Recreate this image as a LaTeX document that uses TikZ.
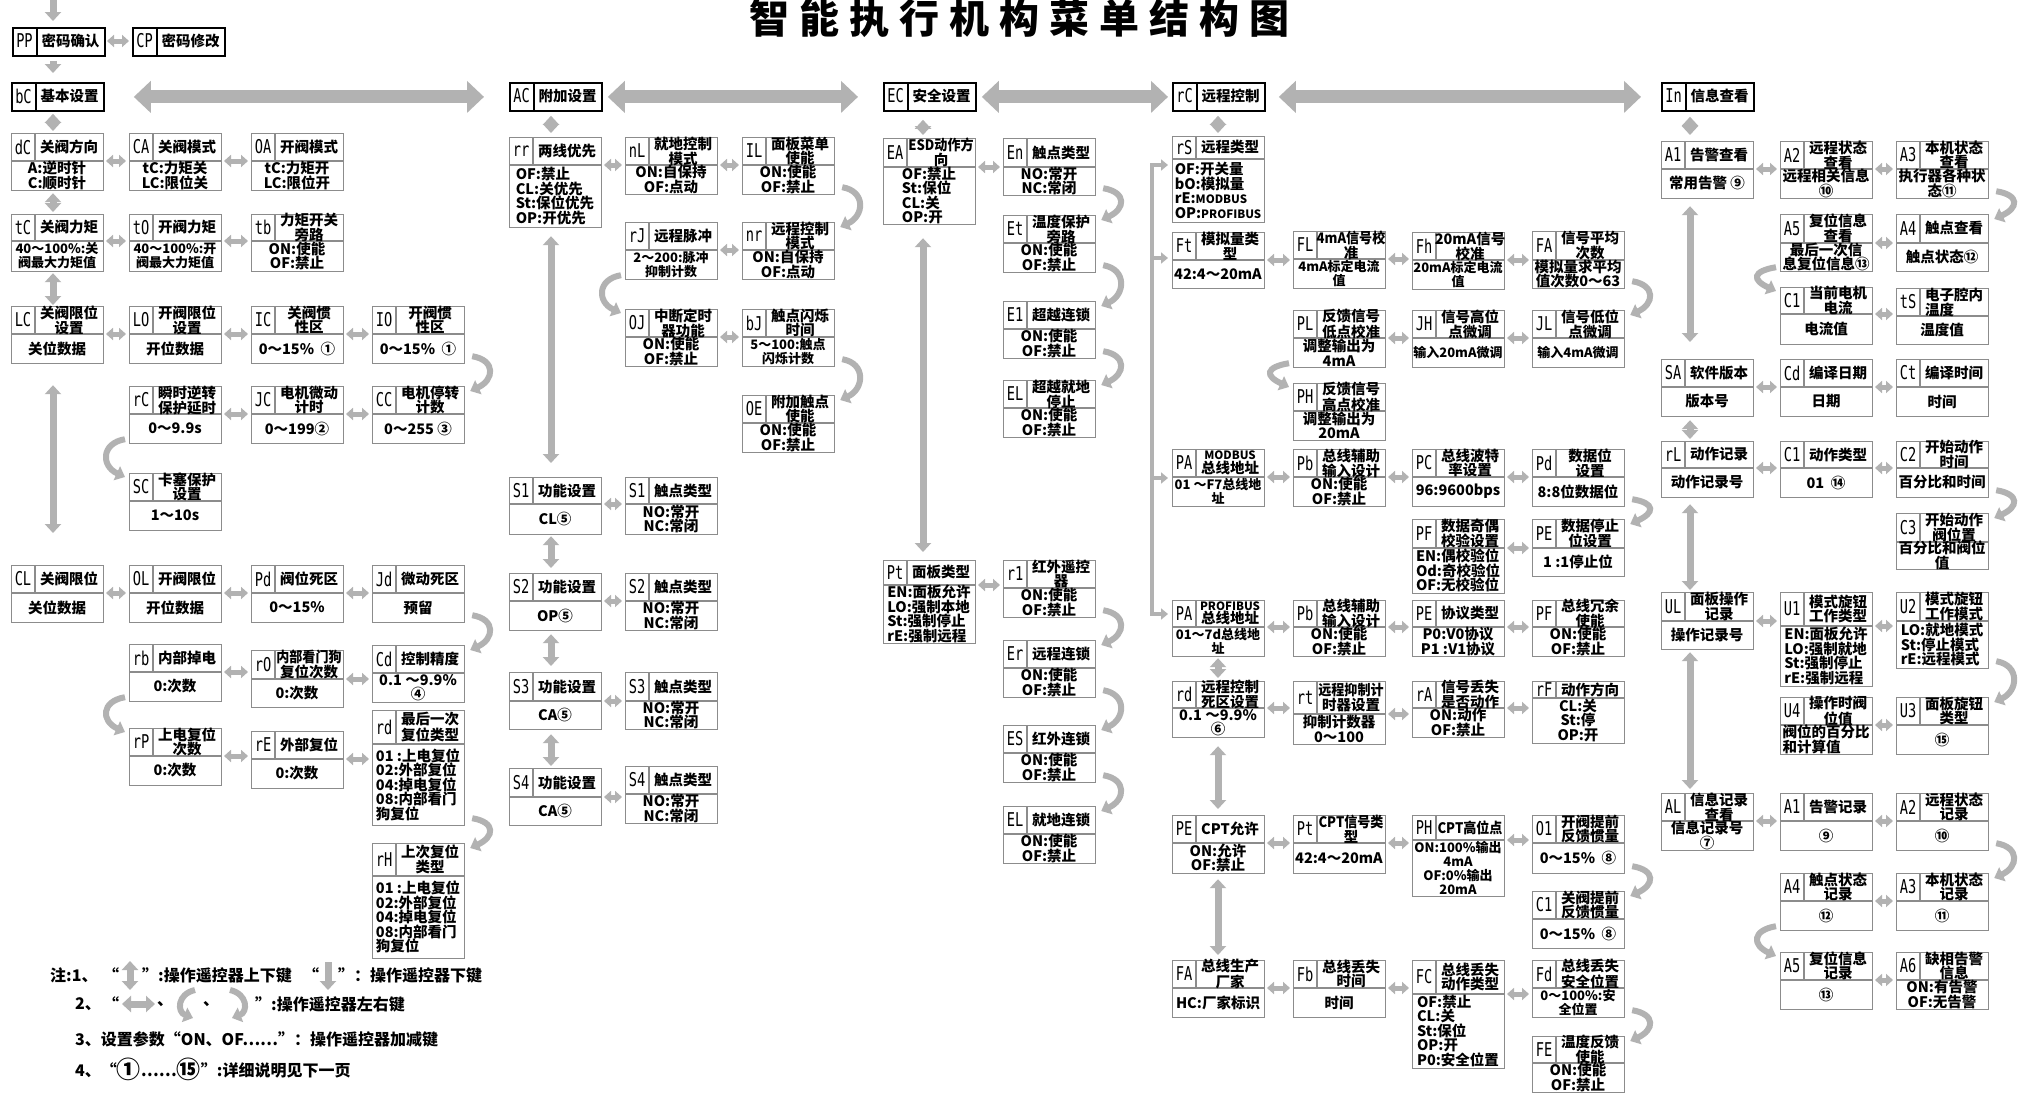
\documentclass[tikz,border=0pt]{standalone}
\usepackage{fontspec}
\usepackage{graphicx}
\setmainfont{Noto Sans CJK SC}
\newfontfamily\codefont{DejaVu Sans Mono}
\usetikzlibrary{arrows.meta,calc}
\definecolor{arrgray}{RGB}{178,178,178}
\definecolor{boxgray}{RGB}{140,140,140}
\newcommand\segc[1]{\scalebox{0.72}[1]{\codefont\fontsize{19}{19}\selectfont #1}}
\newcommand\latn[1]{{\fontsize{11.5}{13}\selectfont #1}}
\newcommand\nar[1]{\scalebox{0.9}[1]{#1}}
\newcommand\bigc[1]{\raisebox{-0.12em}{\scalebox{1.5}{#1}}}
\tikzset{
  mbox/.style={draw=boxgray, line width=1.2pt, minimum width=92pt, inner sep=0pt, anchor=north west},
  hbox/.style={draw=black, line width=1.8pt, minimum width=92pt, minimum height=28pt, inner sep=0pt, anchor=north west},
  gridl/.style={draw=boxgray, line width=1.2pt},
  codet/.style={inner sep=0pt},
  headt/.style={inner sep=0pt, font=\fontsize{14.5}{13.5}\selectfont\bfseries, align=center},
  bodyt/.style={inner sep=0pt, font=\fontsize{14.5}{14.5}\selectfont\bfseries, align=center},
  sm/.style={font=\fontsize{13}{14}\selectfont\bfseries},
  harr/.style={draw=arrgray, line width=5pt, {Triangle[width=12pt,length=7pt]}-{Triangle[width=12pt,length=7pt]}},
  varr/.style={draw=arrgray, line width=7pt, {Triangle[width=16pt,length=9pt]}-{Triangle[width=16pt,length=9pt]}},
  sarr/.style={draw=arrgray, line width=7pt, -{Triangle[width=16pt,length=9pt]}},
  barr/.style={draw=arrgray, line width=13pt, {Triangle[width=31pt,length=17pt]}-{Triangle[width=31pt,length=17pt]}},
  curv/.style={draw=arrgray, line width=6pt, -{Triangle[width=15pt,length=9pt]}},
  brk/.style={draw=arrgray, line width=4.5pt, line join=miter, {Triangle[width=11pt,length=7pt]}-{Triangle[width=11pt,length=7pt]}},
  brka/.style={draw=arrgray, line width=4.5pt, -{Triangle[width=11pt,length=7pt]}},
  notet/.style={inner sep=0pt, anchor=west, font=\fontsize{16}{16}\selectfont\bfseries},
  titlet/.style={inner sep=0pt, anchor=base, font=\fontsize{40}{40}\selectfont\bfseries},
}
% #1 opt body style, #2 name, #3 x, #4 y, #5 h, #6 header h, #7 code, #8 head, #9 body
\newcommand\mnode[9][]{%
  \node[mbox, minimum height=#5pt] (#2) at (#3,#4) {};
  \draw[gridl] (#3,#4+#6) -- (#3+92,#4+#6);
  \draw[gridl] (#3+24,#4) -- (#3+24,#4+#6);
  \node[codet] (#2-c) at (#3+12,#4+#6/2) {\segc{#7}};
  \node[headt] (#2-h) at (#3+58,#4+#6/2) {#8};
  \node[bodyt,#1] (#2-b) at (#3+46,#4+#6/2+#5/2) {#9};
  \coordinate (#2-dr) at (#3+92,#4+#6);
}
\newcommand\hnode[5]{%
  \node[hbox] (#1) at (#2,#3) {};
  \draw[black, line width=1.8pt] (#2+25,#3) -- (#2+25,#3+28);
  \node[codet] (#1-c) at (#2+12.5,#3+14) {\segc{#4}};
  \node[headt] (#1-h) at (#2+58.5,#3+14) {#5};
  \coordinate (#1-dr) at (#2+92,#3+14);
}
\newcommand\hcon[2]{\draw[harr] ($(#1-dr)+(3,0)$) -- ($(#1-dr -| #2.west)+(-3,0)$);}
\newcommand\vcon[5]{\draw[varr, shorten <=#4pt, shorten >=#5pt] ([xshift=#3pt]#1.south west) -- ([xshift=#3pt]#2.north west);}
\newcommand\rcurve[2]{%
  \path ($(#1.south east)+(7,-8)$) coordinate (s#1#2) ($(#2.north east)+(5,5)$) coordinate (e#1#2);
  \draw[curv] (s#1#2) .. controls ($(s#1#2)+(24,4)$) and ($(e#1#2)+(24,-11)$) .. (e#1#2);}
\newcommand\lcurve[2]{%
  \path ($(#1.south west)+(-4,-5)$) coordinate (s#1#2) ($(#2.north west)+(-4,4)$) coordinate (e#1#2);
  \draw[curv] (s#1#2) .. controls ($(s#1#2)+(-24,4)$) and ($(e#1#2)+(-24,-11)$) .. (e#1#2);}

\begin{document}
\begin{tikzpicture}[x=1pt,y=-1pt]
\fill[white] (0,0) rectangle (2018,1095);
\useasboundingbox (0,0) rectangle (2018,1095);

% title
\foreach \ch [count=\i] in {智,能,执,行,机,构,菜,单,结,构,图} {\node[titlet] (t\i) at ({719+50*\i},33) {\ch};}

% ===== column bC =====
\hnode{PP}{12}{27}{PP}{密码确认}
\hnode{CP}{132}{27}{CP}{密码修改}
\hnode{bC}{11}{82}{bC}{基本设置}
\mnode{dC}{11}{133}{57}{28}{dC}{关阀方向}{A:逆时针\\C:顺时针}
\mnode{CA}{129}{133}{57}{28}{CA}{关阀模式}{tC:力矩关\\LC:限位关}
\mnode{OA}{251}{133}{57}{28}{OA}{开阀模式}{tC:力矩开\\LC:限位开}
\mnode[sm]{tC}{11}{214}{57}{27}{tC}{关阀力矩}{40～100\%:关\\阀最大力矩值}
\mnode[sm]{tO}{129}{214}{57}{27}{tO}{开阀力矩}{40～100\%:开\\阀最大力矩值}
\mnode{tb}{251}{214}{57}{27}{tb}{力矩开关\\旁路}{ON:使能\\OF:禁止}
\mnode{LC}{11}{306}{57}{28}{LC}{关阀限位\\设置}{关位数据}
\mnode{LO}{129}{306}{57}{28}{LO}{开阀限位\\设置}{开位数据}
\mnode{IC}{251}{306}{57}{28}{IC}{关阀惯\\性区}{0～15\%\ \ ①}
\mnode{IO}{372}{306}{57}{28}{IO}{开阀惯\\性区}{0～15\%\ \ ①}
\mnode{rC}{129}{386}{57}{28}{rC}{瞬时逆转\\保护延时}{0～9.9s}
\mnode{JC}{251}{386}{57}{28}{JC}{电机微动\\计时}{0～199②}
\mnode{CC}{372}{386}{57}{28}{CC}{电机停转\\计数}{0～255 ③}
\mnode{SC}{129}{473}{57}{28}{SC}{卡塞保护\\设置}{1～10s}
\mnode{CL}{11}{565}{57}{28}{CL}{关阀限位}{关位数据}
\mnode{OL}{129}{565}{57}{28}{OL}{开阀限位}{开位数据}
\mnode{Pdb}{251}{565}{57}{28}{Pd}{阀位死区}{0～15\%}
\mnode{Jd}{372}{565}{57}{28}{Jd}{微动死区}{预留}
\mnode{rb}{129}{644}{57}{28}{rb}{内部掉电}{0:次数}
\mnode{rO}{251}{650}{57}{29}{rO}{\nar{内部看门狗}\\复位次数}{0:次数}
\mnode{Cd}{372}{645}{57}{28}{Cd}{控制精度}{0.1 ～9.9\%\\④}
\mnode{rP}{129}{728}{57}{28}{rP}{上电复位\\次数}{0:次数}
\mnode{rE}{251}{731}{57}{28}{rE}{外部复位}{0:次数}
\mnode[align=left]{rdb}{372}{710}{115}{34}{rd}{最后一次\\复位类型}{01 :上电复位\\02:外部复位\\04:掉电复位\\08:内部看门\\狗复位}
\mnode[align=left]{rH}{372}{843}{115}{33}{rH}{上次复位\\类型}{01 :上电复位\\02:外部复位\\04:掉电复位\\08:内部看门\\狗复位}

\coordinate (topin) at (53,-3);
\draw[sarr, shorten >=6pt] (topin) -- ([xshift=41pt]PP.north west);
\draw[sarr, shorten <=4pt, shorten >=9pt] ([xshift=41pt]PP.south west) -- ([xshift=42pt]bC.north west);
\hcon{PP}{CP}
\vcon{bC}{dC}{42}{2}{2}
\vcon{dC}{tC}{42}{2}{2}
\vcon{tC}{LC}{42}{1}{1}
\vcon{LC}{CL}{42}{21}{32}
\hcon{dC}{CA}\hcon{CA}{OA}
\hcon{tC}{tO}\hcon{tO}{tb}
\hcon{LC}{LO}\hcon{LO}{IC}\hcon{IC}{IO}
\hcon{rC}{JC}\hcon{JC}{CC}
\hcon{CL}{OL}\hcon{OL}{Pdb}\hcon{Pdb}{Jd}
\hcon{rb}{rO}\hcon{rO}{Cd}
\hcon{rP}{rE}\hcon{rE}{rdb}
\rcurve{IO}{CC}
\lcurve{rC}{SC}
\rcurve{Jd}{Cd}
\lcurve{rb}{rP}
\rcurve{rdb}{rH}

% ===== column AC =====
\hnode{AC}{509}{82}{AC}{附加设置}
\mnode[align=left]{rr}{509}{137}{90}{28}{rr}{两线优先}{OF:禁止\\CL:关优先\\St:保位优先\\OP:开优先}
\mnode{nL}{625}{137}{57}{28}{nL}{就地控制\\模式}{ON:自保持\\OF:点动}
\mnode{IL}{742}{137}{57}{28}{IL}{面板菜单\\使能}{ON:使能\\OF:禁止}
\mnode[sm]{rJ}{625}{222}{57}{28}{rJ}{远程脉冲}{2～200:脉冲\\抑制计数}
\mnode{nr}{742}{222}{57}{28}{nr}{远程控制\\模式}{ON:自保持\\OF:点动}
\mnode{OJ}{625}{309}{57}{28}{OJ}{中断定时\\器功能}{ON:使能\\OF:禁止}
\mnode[sm]{bJ}{742}{309}{57}{28}{bJ}{触点闪烁\\时间}{5～100:触点\\闪烁计数}
\mnode{OE}{742}{395}{57}{28}{OE}{附加触点\\使能}{ON:使能\\OF:禁止}
\mnode{S1f}{509}{477}{57}{27}{S1}{功能设置}{CL⑤}
\mnode{S1t}{625}{477}{57}{27}{S1}{触点类型}{NO:常开\\NC:常闭}
\mnode{S2f}{509}{573}{57}{28}{S2}{功能设置}{OP⑤}
\mnode{S2t}{625}{573}{57}{28}{S2}{触点类型}{NO:常开\\NC:常闭}
\mnode{S3f}{509}{672}{57}{29}{S3}{功能设置}{CA⑤}
\mnode{S3t}{625}{672}{57}{29}{S3}{触点类型}{NO:常开\\NC:常闭}
\mnode{S4f}{509}{768}{57}{29}{S4}{功能设置}{CA⑤}
\mnode{S4t}{625}{766}{57}{28}{S4}{触点类型}{NO:常开\\NC:常闭}
\vcon{AC}{rr}{42}{4}{4}
\vcon{rr}{S1f}{42}{8}{14}
\vcon{S1f}{S2f}{42}{1}{5}
\vcon{S2f}{S3f}{42}{3}{6}
\vcon{S3f}{S4f}{42}{4}{2}
\hcon{rr}{nL}\hcon{nL}{IL}
\hcon{rJ}{nr}\hcon{OJ}{bJ}
\hcon{S1f}{S1t}\hcon{S2f}{S2t}\hcon{S3f}{S3t}\hcon{S4f}{S4t}
\rcurve{IL}{nr}
\lcurve{rJ}{OJ}
\rcurve{bJ}{OE}

% ===== column EC =====
\hnode{EC}{883}{82}{EC}{安全设置}
\mnode[align=left]{EA}{883}{138}{86}{29}{EA}{\nar{ESD动作方}\\向}{OF:禁止\\St:保位\\CL:关\\OP:开}
\mnode{En}{1003}{138}{57}{29}{En}{触点类型}{NO:常开\\NC:常闭}
\mnode{Et}{1003}{215}{57}{28}{Et}{温度保护\\旁路}{ON:使能\\OF:禁止}
\mnode{Ei}{1003}{301}{57}{28}{E1}{超越连锁}{ON:使能\\OF:禁止}
\mnode{ELa}{1003}{380}{57}{28}{EL}{超越就地\\停止}{ON:使能\\OF:禁止}
\mnode[align=left]{Pte}{883}{560}{83}{25}{Pt}{面板类型}{EN:面板允许\\LO:强制本地\\St:强制停止\\rE:强制远程}
\mnode{ri}{1003}{560}{57}{28}{r1}{红外遥控\\器}{ON:使能\\OF:禁止}
\mnode{Er}{1003}{640}{57}{28}{Er}{远程连锁}{ON:使能\\OF:禁止}
\mnode{ES}{1003}{725}{57}{28}{ES}{红外连锁}{ON:使能\\OF:禁止}
\mnode{ELb}{1003}{806}{57}{28}{EL}{就地连锁}{ON:使能\\OF:禁止}
\vcon{EC}{EA}{40}{8}{3}
\vcon{EA}{Pte}{40}{13}{8}
\hcon{EA}{En}\hcon{Pte}{ri}
\rcurve{En}{Et}\rcurve{Et}{Ei}\rcurve{Ei}{ELa}
\rcurve{ri}{Er}\rcurve{Er}{ES}\rcurve{ES}{ELb}

% ===== column rC =====
\hnode{rCh}{1172}{82}{rC}{远程控制}
\mnode[align=left]{rS}{1172}{136}{86}{23}{rS}{远程类型}{OF:开关量\\bO:模拟量\\rE:\latn{MODBUS}\\OP:\latn{PROFIBUS}}
\mnode{Ft}{1172}{232}{56}{28}{Ft}{模拟量类\\型}{42:4～20mA}
\mnode[sm]{FL}{1293}{231}{57}{28}{FL}{\nar{4mA信号校}\\准}{4mA标定电流\\值}
\mnode[sm]{Fh}{1412}{232}{57}{28}{Fh}{20mA信号\\校准}{20mA标定电流\\值}
\mnode{FAa}{1532}{231}{57}{29}{FA}{信号平均\\次数}{模拟量求平均\\值次数0～63}
\mnode{PL}{1293}{310}{57}{28}{PL}{反馈信号\\低点校准}{调整输出为\\4mA}
\mnode[sm]{JH}{1412}{310}{57}{28}{JH}{信号高位\\点微调}{输入20mA微调}
\mnode[sm]{JL}{1532}{310}{57}{28}{JL}{信号低位\\点微调}{输入4mA微调}
\mnode{PH}{1293}{383}{57}{28}{PH}{反馈信号\\高点校准}{调整输出为\\20mA}
\mnode[sm]{PAm}{1172}{449}{57}{28}{PA}{\latn{MODBUS}\\总线地址}{01 ～F7总线地\\址}
\mnode{Pbm}{1293}{449}{57}{28}{Pb}{总线辅助\\输入设计}{ON:使能\\OF:禁止}
\mnode{PCm}{1412}{449}{57}{28}{PC}{总线波特\\率设置}{96:9600bps}
\mnode{Pdm}{1532}{449}{57}{28}{Pd}{数据位\\设置}{8:8位数据位}
\mnode[align=left]{PFm}{1412}{519}{74}{29}{PF}{数据奇偶\\校验设置}{EN:偶校验位\\Od:奇校验位\\OF:无校验位}
\mnode{PEm}{1532}{519}{57}{29}{PE}{数据停止\\位设置}{1 :1停止位}
\mnode[sm]{PAp}{1172}{600}{56}{27}{PA}{\latn{PROFIBUS}\\总线地址}{01～7d总线地\\址}
\mnode{Pbp}{1293}{600}{56}{27}{Pb}{总线辅助\\输入设计}{ON:使能\\OF:禁止}
\mnode{PEp}{1412}{600}{56}{27}{PE}{协议类型}{P0:V0协议\\P1 :V1协议}
\mnode{PFp}{1532}{600}{56}{27}{PF}{总线冗余\\使能}{ON:使能\\OF:禁止}
\mnode{rdr}{1172}{681}{56}{27}{rd}{远程控制\\死区设置}{0.1 ～9.9\%\\⑥}
\mnode{rt}{1293}{681}{63}{33}{rt}{\nar{远程抑制计}\\时器设置}{抑制计数器\\0～100}
\mnode{rA}{1412}{681}{56}{27}{rA}{信号丢失\\是否动作}{ON:动作\\OF:禁止}
\mnode{rF}{1532}{681}{62}{17}{rF}{动作方向}{CL:关\\St:停\\OP:开}
\mnode{PEc}{1172}{815}{58}{28}{PE}{CPT允许}{ON:允许\\OF:禁止}
\mnode{Ptc}{1293}{815}{58}{28}{Pt}{\nar{CPT信号类}\\型}{42:4～20mA}
\mnode[sm]{PHc}{1412}{815}{81}{25}{PH}{\nar{CPT高位点}}{ON:100\%输出\\4mA\\OF:0\%输出\\20mA}
\mnode{Ofb}{1532}{815}{58}{28}{O1}{开阀提前\\反馈惯量}{0～15\%\ \ ⑧}
\mnode{Cfb}{1532}{891}{57}{28}{C1}{关阀提前\\反馈惯量}{0～15\%\ \ ⑧}
\mnode{FAb}{1172}{960}{57}{28}{FA}{总线生产\\厂家}{HC:厂家标识}
\mnode{Fb}{1293}{960}{57}{28}{Fb}{总线丢失\\时间}{时间}
\mnode[align=left]{FC}{1412}{960}{108}{34}{FC}{总线丢失\\动作类型}{OF:禁止\\CL:关\\St:保位\\OP:开\\P0:安全位置}
\mnode[sm]{Fd}{1532}{960}{57}{28}{Fd}{总线丢失\\安全位置}{0～100\%:安\\全位置}
\mnode{FE}{1532}{1036}{56}{27}{FE}{温度反馈\\使能}{ON:使能\\OF:禁止}
\vcon{rCh}{rS}{46}{4}{3}
\vcon{PAp}{rdr}{46}{1}{3}
\vcon{rdr}{PEc}{46}{8}{6}
\vcon{PEc}{FAb}{46}{5}{5}
\hcon{Ft}{FL}\hcon{FL}{Fh}\hcon{Fh}{FAa}
\hcon{PL}{JH}\hcon{JH}{JL}
\hcon{PAm}{Pbm}\hcon{Pbm}{PCm}\hcon{PCm}{Pdm}
\hcon{PFm}{PEm}
\hcon{PAp}{Pbp}\hcon{Pbp}{PEp}\hcon{PEp}{PFp}
\hcon{rdr}{rt}\hcon{rt}{rA}\hcon{rA}{rF}
\hcon{PEc}{Ptc}\hcon{Ptc}{PHc}\hcon{PHc}{Ofb}
\hcon{FAb}{Fb}\hcon{Fb}{FC}\hcon{FC}{Fd}
\rcurve{FAa}{JL}
\lcurve{PL}{PH}
\rcurve{Pdm}{PEm}
\rcurve{Ofb}{Cfb}
\rcurve{Fd}{FE}

% bracket
\coordinate (bk1) at (1152,165);
\coordinate (bk2) at (1152,258);
\coordinate (bk3) at (1152,478);
\coordinate (bk4) at (1152,614);
\draw[brk] ($(bk1 -| rS.west)+(-4,0)$) -- (bk1) -- (bk4) -- ($(bk4 -| PAp.west)+(-4,0)$);
\draw[brka] (bk2) -- ($(bk2 -| Ft.west)+(-4,0)$);
\draw[brka] (bk3) -- ($(bk3 -| PAm.west)+(-4,0)$);

% ===== column In =====
\hnode{In}{1661}{82}{In}{信息查看}
\mnode{Aa}{1661}{141}{57}{28}{A1}{告警查看}{常用告警 ⑨}
\mnode{Ab}{1780}{141}{57}{28}{A2}{远程状态\\查看}{远程相关信息\\⑩}
\mnode{Ac}{1896}{141}{57}{28}{A3}{本机状态\\查看}{执行器各种状\\态⑪}
\mnode{Ae}{1780}{214}{57}{29}{A5}{复位信息\\查看}{最后一次信\\息复位信息⑬}
\mnode{Ad}{1896}{214}{57}{29}{A4}{触点查看}{触点状态⑫}
\mnode{Ci}{1780}{287}{57}{27}{C1}{当前电机\\电流}{电流值}
\mnode{tS}{1896}{288}{56}{28}{tS}{电子腔内\\温度\hphantom{腔内}}{温度值}
\mnode{SA}{1661}{359}{57}{28}{SA}{软件版本}{版本号}
\mnode{Cdi}{1780}{359}{57}{28}{Cd}{编译日期}{日期}
\mnode{Ct}{1896}{359}{57}{28}{Ct}{编译时间}{时间}
\mnode{rL}{1661}{441}{56}{27}{rL}{动作记录}{动作记录号}
\mnode{Ca}{1780}{441}{56}{27}{C1}{动作类型}{01\ \ ⑭}
\mnode{Cb}{1896}{441}{56}{27}{C2}{开始动作\\时间}{百分比和时间}
\mnode{Cc}{1896}{513}{56}{29}{C3}{开始动作\\阀位置}{百分比和阀位\\值}
\mnode{UL}{1661}{592}{57}{29}{UL}{面板操作\\记录}{操作记录号}
\mnode[align=left]{Ua}{1780}{592}{94}{34}{U1}{模式旋钮\\工作类型}{EN:面板允许\\LO:强制就地\\St:强制停止\\rE:强制远程}
\mnode[align=left]{Ub}{1896}{592}{76}{29}{U2}{模式旋钮\\工作模式}{LO:就地模式\\St:停止模式\\rE:远程模式}
\mnode[align=left]{Ud}{1780}{697}{57}{28}{U4}{操作时阀\\位值}{阀位的百分比\\和计算值}
\mnode{Uc}{1896}{697}{57}{28}{U3}{面板旋钮\\类型}{⑮}
\mnode{AL}{1661}{793}{57}{28}{AL}{信息记录\\查看}{信息记录号\\⑦}
\mnode{Ra}{1780}{793}{57}{28}{A1}{告警记录}{⑨}
\mnode{Rb}{1896}{793}{57}{28}{A2}{远程状态\\记录}{⑩}
\mnode{Rd}{1780}{873}{57}{28}{A4}{触点状态\\记录}{⑫}
\mnode{Rc}{1896}{873}{57}{28}{A3}{本机状态\\记录}{⑪}
\mnode{Re}{1780}{952}{57}{28}{A5}{复位信息\\记录}{⑬}
\mnode{Rf}{1896}{952}{57}{28}{A6}{缺相告警\\信息}{ON:有告警\\OF:无告警}
\vcon{In}{Aa}{29}{5}{6}
\vcon{Aa}{SA}{29}{7}{17}
\vcon{SA}{rL}{29}{3}{2}
\vcon{rL}{UL}{29}{6}{2}
\vcon{UL}{AL}{29}{2}{4}
\hcon{Aa}{Ab}\hcon{Ab}{Ac}
\hcon{Ae}{Ad}\hcon{Ci}{tS}
\hcon{SA}{Cdi}\hcon{Cdi}{Ct}
\hcon{rL}{Ca}\hcon{Ca}{Cb}
\hcon{UL}{Ua}\hcon{Ua}{Ub}\hcon{Ud}{Uc}
\hcon{AL}{Ra}\hcon{Ra}{Rb}\hcon{Rd}{Rc}\hcon{Re}{Rf}
\rcurve{Ac}{Ad}
\lcurve{Ae}{Ci}
\rcurve{Cb}{Cc}
\rcurve{Ub}{Uc}
\rcurve{Rb}{Rc}
\lcurve{Rd}{Re}

% ===== big arrows =====
\draw[barr, shorten <=29pt, shorten >=25pt] (bC.east) -- (AC.west);
\draw[barr, shorten <=5pt, shorten >=25pt] (AC.east) -- (EC.west);
\draw[barr, shorten <=5pt, shorten >=4pt] (EC.east) -- (rCh.west);
\draw[barr, shorten <=13pt, shorten >=20pt] (rCh.east) -- (In.west);

% ===== notes =====
\node[notet] (n1a) at (50,975) {注:1、};
\node[notet] (n1b) at (103,975) {“};
\draw[varr] (130,961) -- (130,990);
\node[notet] (n1c) at (142,975) {”:操作遥控器上下键};
\node[notet] (n1d) at (303,975) {“};
\draw[sarr] (328,962) -- (328,990);
\node[notet] (n1e) at (338,975) {”：操作遥控器下键};
\node[notet] (n2a) at (75,1004) {2、};
\node[notet] (n2b) at (103,1004) {“};
\draw[varr] (122,1004) -- (155,1004);
\node[notet] (n2c) at (157,1004) {、};
\draw[curv] (195,990) .. controls (177,994) and (177,1012) .. (193,1018);
\node[notet] (n2d) at (203,1004) {、};
\draw[curv] (230,990) .. controls (248,994) and (248,1012) .. (232,1018);
\node[notet] (n2e) at (255,1004) {”:操作遥控器左右键};
\node[notet] (n3) at (75,1039) {3、设置参数“ON、OF……”：操作遥控器加减键};
\node[notet] (n4) at (75,1069) {4、“\bigc{①}……\bigc{⑮}”:详细说明见下一页};
\end{tikzpicture}
\end{document}
